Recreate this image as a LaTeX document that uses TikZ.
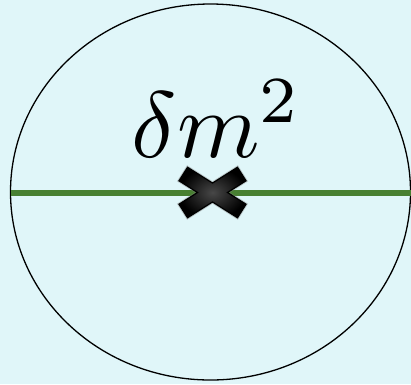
\documentclass[tikz,border=0pt]{standalone}
\definecolor{bgcol}{RGB}{224,246,249}
\definecolor{linegreen}{RGB}{72,128,50}
\tikzset{
  propline/.style={draw=linegreen, line width=5.5pt},
  loop/.style={draw=black, line width=1.3pt},
  crossmark/.style={draw=black, line width=1.2pt, line join=miter},
}
\def\xcrosspath{(24.97,-25.24) -- (33.51,-11.72) -- (14.98,0) -- (33.51,11.72) -- (24.97,25.24) -- (0,9.47)
      -- (-24.97,25.24) -- (-33.51,11.72) -- (-14.98,0) -- (-33.51,-11.72) -- (-24.97,-25.24) -- (0,-9.47) -- cycle}
\begin{document}
\begin{tikzpicture}[x=1pt,y=-1pt]
  \fill[bgcol] (0,0) rectangle (411,384);
  \useasboundingbox (0,0) rectangle (411,384);
  \coordinate (c) at (210.5,192);
  \coordinate (lft) at (11,193);
  \coordinate (rgt) at (411,193);
  \draw[loop] (c) ellipse [x radius=200, y radius=188];
  \draw[propline] (lft) -- (rgt);
  \node[scale=9.4, anchor=base, inner sep=0] (lbl) at (217,157) {$\delta m^2$};
  \begin{scope}[shift={(212.5,192.5)}]
    \draw[gray, opacity=0.4, line width=3pt, line join=miter] \xcrosspath;
    \shade[inner color=black!72, outer color=black] \xcrosspath;
    \draw[crossmark] \xcrosspath;
  \end{scope}
\end{tikzpicture}
\end{document}
